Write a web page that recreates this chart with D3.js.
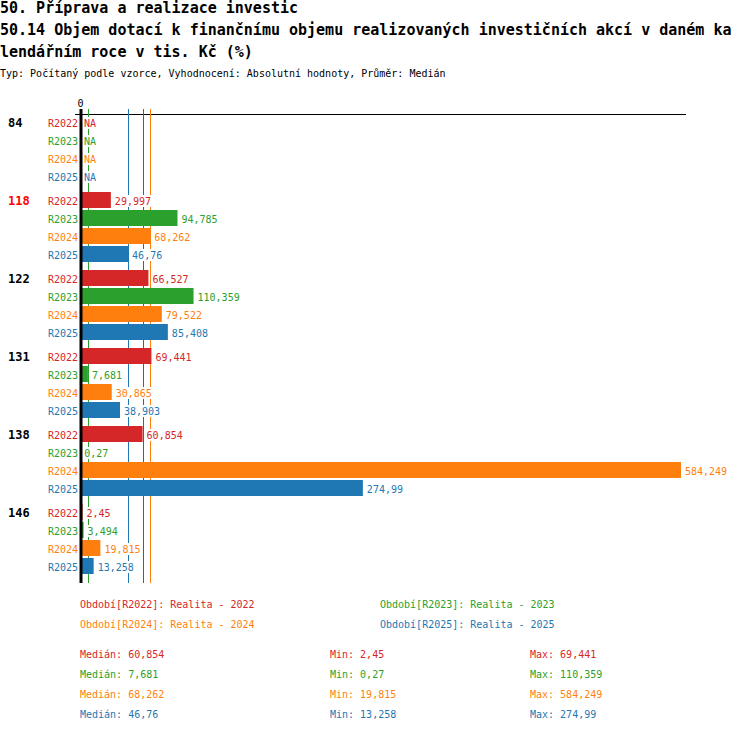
<!DOCTYPE html>
<html>
<head>
<meta charset="utf-8">
<script src="https://cdn.jsdelivr.net/npm/d3@7"></script>
<style>
  body { margin: 0; background: #fff; }
  svg { display: block; font-family: "DejaVu Sans Mono", monospace; }
  .title { font-size: 15px; font-weight: bold; }
  .small { font-size: 10px; }
  .group-label { font-size: 12px; font-weight: bold; }
</style>
</head>
<body>
<svg id="chart" width="750" height="732"></svg>
<script>
var titleLines = [
  "50. Příprava a realizace investic",
  "50.14 Objem dotací k finančnímu objemu realizovaných investičních akcí v daném ka",
  "lendářním roce v tis. Kč (%)"
];
var subtitle = "Typ: Počítaný podle vzorce, Vyhodnocení: Absolutní hodnoty, Průměr: Medián";

var groups = ["84", "118", "122", "131", "138", "146"];
var highlightGroup = "118";

var seriesKeys = ["R2022", "R2023", "R2024", "R2025"];
var seriesNames = ["Realita - 2022", "Realita - 2023", "Realita - 2024", "Realita - 2025"];
var seriesColors = ["#d62728", "#2ca02c", "#ff7f0e", "#1f77b4"];

var r2022 = [null, 29.997, 66.527, 69.441, 60.854, 2.45];
var r2023 = [null, 94.785, 110.359, 7.681, 0.27, 3.494];
var r2024 = [null, 68.262, 79.522, 30.865, 584.249, 19.815];
var r2025 = [null, 46.76, 85.408, 38.903, 274.99, 13.258];
var seriesValues = [r2022, r2023, r2024, r2025];

var svg = d3.select("#chart");

function fmt(v) {
  return String(v).replace(".", ",");
}

// titles
svg.selectAll("text.title")
  .data(titleLines)
  .enter().append("text")
  .attr("class", "title")
  .attr("x", 0)
  .attr("y", function (d, i) { return 13 + i * 22; })
  .text(function (d) { return d; });

svg.append("text")
  .attr("class", "small")
  .attr("x", 0)
  .attr("y", 77)
  .text(subtitle);

// layout
var rowStep = 18, barH = 16, groupStep = 78, firstRow = 123;
var x0 = 80;
var allValues = d3.merge(seriesValues).filter(function (v) { return v != null; });
var x = d3.scaleLinear().domain([0, d3.max(allValues)]).range([x0, 681]);

var chartTop = 109, chartBottom = 583;

function rowY(g, s) {
  return firstRow + g * groupStep + s * rowStep;
}

// axis line on top
svg.append("line")
  .attr("x1", 75).attr("x2", 686)
  .attr("y1", 114.5).attr("y2", 114.5)
  .attr("stroke", "#000");

var axisTop = svg.append("g")
  .attr("transform", "translate(0,107)")
  .call(d3.axisTop(x).tickValues([0]).tickSize(0).tickPadding(0));
axisTop.select(".domain").remove();
axisTop.selectAll("text")
  .style("font-family", "DejaVu Sans Mono, monospace")
  .style("font-size", "10px")
  .attr("fill", "#000");

// median lines, behind bars
var stats = seriesValues.map(function (vals) {
  var v = vals.filter(function (d) { return d != null; });
  return { median: d3.median(v), min: d3.min(v), max: d3.max(v) };
});

svg.selectAll("line.median")
  .data(stats)
  .enter().append("line")
  .attr("class", "median")
  .attr("x1", function (d) { return Math.round(x(d.median)) + 0.5; })
  .attr("x2", function (d) { return Math.round(x(d.median)) + 0.5; })
  .attr("y1", chartTop)
  .attr("y2", chartBottom)
  .attr("stroke", function (d, i) { return seriesColors[i]; })
  .attr("stroke-width", 1);

// rows
var rows = [];
groups.forEach(function (g, gi) {
  seriesKeys.forEach(function (k, si) {
    rows.push({ group: gi, series: si, key: k, value: seriesValues[si][gi] });
  });
});

svg.selectAll("text.group-label")
  .data(groups)
  .enter().append("text")
  .attr("class", "group-label")
  .attr("x", 8)
  .attr("y", function (d, i) { return rowY(i, 0); })
  .attr("dy", "0.35em")
  .attr("fill", function (d) { return d === highlightGroup ? "#ff0000" : "#000"; })
  .text(function (d) { return d; });

svg.selectAll("text.series-label")
  .data(rows)
  .enter().append("text")
  .attr("class", "small series-label")
  .attr("x", 78)
  .attr("y", function (d) { return rowY(d.group, d.series); })
  .attr("dy", "0.35em")
  .attr("text-anchor", "end")
  .attr("fill", function (d) { return seriesColors[d.series]; })
  .text(function (d) { return d.key; });

svg.selectAll("rect.bar")
  .data(rows.filter(function (d) { return d.value != null; }))
  .enter().append("rect")
  .attr("class", "bar")
  .attr("x", x0)
  .attr("y", function (d) { return rowY(d.group, d.series) - barH / 2 - 1; })
  .attr("width", function (d) { return x(d.value) - x0; })
  .attr("height", barH)
  .attr("fill", function (d) { return seriesColors[d.series]; });

// value labels with white backing
var labels = svg.selectAll("g.value-label")
  .data(rows)
  .enter().append("g")
  .attr("class", "value-label")
  .attr("transform", function (d) {
    var end = d.value == null ? x0 : x(d.value);
    return "translate(" + (end + 3) + "," + rowY(d.group, d.series) + ")";
  });

labels.append("rect")
  .attr("fill", "#fff")
  .attr("y", -6)
  .attr("height", 12);

labels.append("text")
  .attr("class", "small")
  .attr("x", 1)
  .attr("dy", "0.35em")
  .attr("fill", function (d) { return seriesColors[d.series]; })
  .text(function (d) { return d.value == null ? "NA" : fmt(d.value); });

labels.each(function () {
  var g = d3.select(this);
  var w = g.select("text").node().getComputedTextLength();
  g.select("rect").attr("width", w + 2);
});

// zero axis line
svg.append("line")
  .attr("x1", 81).attr("x2", 81)
  .attr("y1", 109).attr("y2", chartBottom)
  .attr("stroke", "#000")
  .attr("stroke-width", 3);

// legend
var legendPos = [[80, 604], [380, 604], [80, 624], [380, 624]];
svg.selectAll("text.legend")
  .data(seriesKeys)
  .enter().append("text")
  .attr("class", "small legend")
  .attr("x", function (d, i) { return legendPos[i][0]; })
  .attr("y", function (d, i) { return legendPos[i][1]; })
  .attr("dy", "0.35em")
  .attr("fill", function (d, i) { return seriesColors[i]; })
  .text(function (d, i) { return "Období[" + d + "]: " + seriesNames[i]; });

// stats
var statCols = [
  { x: 80, label: "Medián: ", key: "median" },
  { x: 330, label: "Min: ", key: "min" },
  { x: 530, label: "Max: ", key: "max" }
];
stats.forEach(function (s, i) {
  statCols.forEach(function (c) {
    svg.append("text")
      .attr("class", "small")
      .attr("x", c.x)
      .attr("y", 654 + i * 20)
      .attr("dy", "0.35em")
      .attr("fill", seriesColors[i])
      .text(c.label + fmt(s[c.key]));
  });
});
</script>
</body>
</html>
